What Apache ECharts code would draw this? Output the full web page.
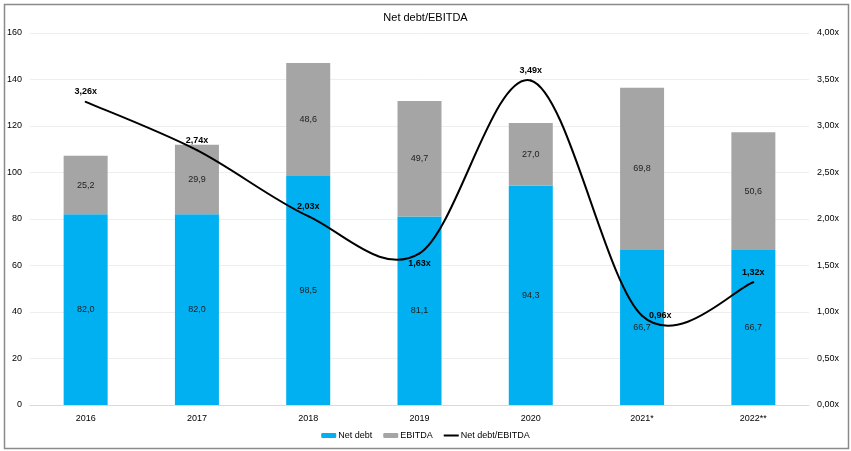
<!DOCTYPE html>
<html>
<head>
<meta charset="utf-8">
<script src="https://cdn.jsdelivr.net/npm/echarts@6/dist/echarts.min.js"></script>
<style>
html,body{margin:0;padding:0;background:#fff;}
#c{width:851px;height:451px;}
</style>
</head>
<body>
<div id="c"></div>
<script>
const categories = ['2016','2017','2018','2019','2020','2021*','2022**'];
const netDebt = [82.0, 82.0, 98.5, 81.1, 94.3, 66.7, 66.7];
const ebitda = [25.2, 29.9, 48.6, 49.7, 27.0, 69.8, 50.6];
const ratio = [3.26, 2.74, 2.03, 1.63, 3.49, 0.96, 1.32];
const leftTicks = {min: 0, max: 160, interval: 20};
const rightTicks = {min: 0, max: 4, interval: 0.5};

const FONT = '"Liberation Sans", Arial, sans-serif';
const fmt1 = v => v.toFixed(1).replace('.', ',');
const fmt2x = v => v.toFixed(2).replace('.', ',') + 'x';

const labelPos = ratio.map((v, i) => i === 3 ? 'bottom' : (i === 5 ? 'right' : 'top'));

function renderRatio(params, api) {
  const i = params.dataIndex;
  const n = ratio.length;
  const P = k => api.coord([Math.max(0, Math.min(n - 1, k)), ratio[Math.max(0, Math.min(n - 1, k))]]);
  const children = [];
  if (i < n - 1) {
    const p0 = P(i - 1), p1 = P(i), p2 = P(i + 1), p3 = P(i + 2);
    children.push({
      type: 'bezierCurve',
      shape: {
        x1: p1[0], y1: p1[1], x2: p2[0], y2: p2[1],
        cpx1: p1[0] + (p2[0] - p0[0]) / 6, cpy1: p1[1] + (p2[1] - p0[1]) / 6,
        cpx2: p2[0] - (p3[0] - p1[0]) / 6, cpy2: p2[1] - (p3[1] - p1[1]) / 6
      },
      style: {stroke: '#000', lineWidth: 2, fill: 'none', lineCap: 'round'}
    });
  }
  const pt = P(i);
  const pos = labelPos[i];
  let lx = pt[0], ly = pt[1] - 10, align = 'center';
  if (pos === 'bottom') { ly = pt[1] + 10; }
  if (pos === 'right') { lx = pt[0] + 7; ly = pt[1]; align = 'left'; }
  children.push({
    type: 'text', x: lx, y: ly, z2: 10,
    style: {text: fmt2x(ratio[i]), fontFamily: FONT, fontSize: 9, fontWeight: 'bold',
      fill: '#000', align: align, verticalAlign: 'middle'}
  });
  return {type: 'group', children: children};
}

const chart = echarts.init(document.getElementById('c'), null, {renderer: 'canvas'});
chart.setOption({
  animation: false,
  textStyle: {fontFamily: FONT},
  title: {
    text: 'Net debt/EBITDA', left: 'center', top: 7,
    textStyle: {fontFamily: FONT, fontSize: 11, fontWeight: 'normal', color: '#000'}
  },
  graphic: [{
    type: 'rect', left: 2, top: 2, silent: true,
    shape: {width: 844, height: 444},
    style: {fill: 'none', stroke: '#8a8a8a', lineWidth: 1.5}
  }],
  legend: {
    bottom: 6, left: 'center', itemGap: 11, itemWidth: 15, itemHeight: 5,
    textStyle: {fontFamily: FONT, fontSize: 9, color: '#000', padding: [0,0,0,-3]},
    data: ['Net debt', 'EBITDA',
      {name: 'Net debt/EBITDA', icon: 'path://M0,0M0,1.5h15v2h-15zM15,5'}]
  },
  grid: {left: 30, right: 42, top: 33, bottom: 46},
  xAxis: {
    type: 'category', data: categories,
    axisTick: {show: false},
    axisLine: {lineStyle: {color: '#d9d9d9', width: 1}},
    axisLabel: {fontFamily: FONT, fontSize: 9, color: '#000', margin: 9}
  },
  yAxis: [{
    type: 'value', min: leftTicks.min, max: leftTicks.max, interval: leftTicks.interval,
    axisLabel: {fontFamily: FONT, fontSize: 9, color: '#000', margin: 8},
    splitLine: {lineStyle: {color: '#eeeeee'}},
    axisLine: {show: false}, axisTick: {show: false}
  }, {
    type: 'value', min: rightTicks.min, max: rightTicks.max, interval: rightTicks.interval,
    axisLabel: {fontFamily: FONT, fontSize: 9, color: '#000', margin: 8,
      formatter: v => v.toFixed(2).replace('.', ',') + 'x'},
    splitLine: {show: false}, axisLine: {show: false}, axisTick: {show: false}
  }],
  series: [{
    name: 'Net debt', type: 'bar', stack: 's', barWidth: 44,
    itemStyle: {color: '#00B0F0'},
    label: {show: true, position: 'inside', fontFamily: FONT, fontSize: 9, color: '#222',
      formatter: p => fmt1(p.value)},
    data: netDebt
  }, {
    name: 'EBITDA', type: 'bar', stack: 's', barWidth: 44,
    itemStyle: {color: '#A5A5A5'},
    label: {show: true, position: 'inside', fontFamily: FONT, fontSize: 9, color: '#222',
      formatter: p => fmt1(p.value)},
    data: ebitda
  }, {
    name: 'Net debt/EBITDA', type: 'custom', yAxisIndex: 1, z: 5,
    coordinateSystem: 'cartesian2d',
    itemStyle: {color: '#000'},
    encode: {x: 0, y: 1},
    renderItem: renderRatio,
    data: ratio.map((v, i) => [i, v])
  }]
});
</script>
</body>
</html>
